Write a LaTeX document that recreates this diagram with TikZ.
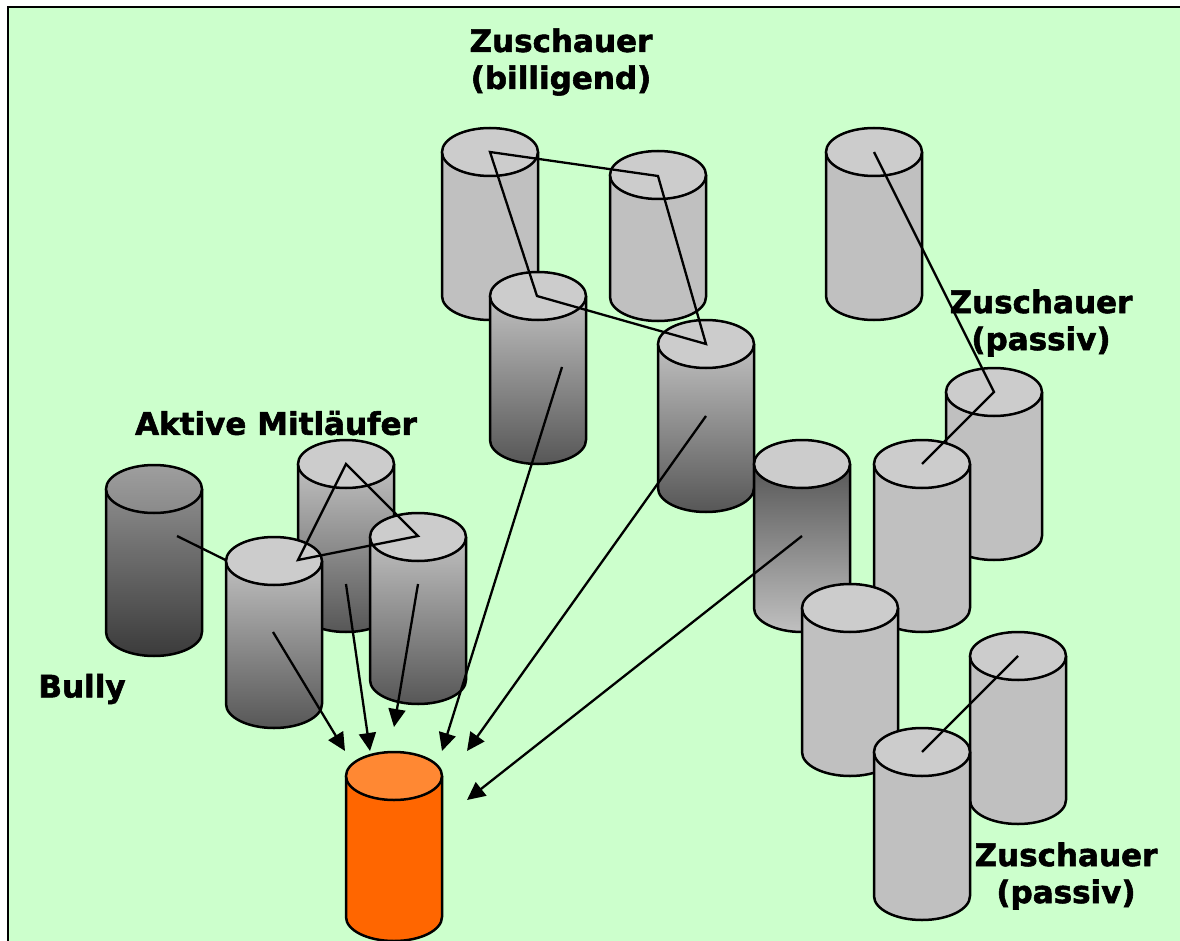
\documentclass[tikz,border=0pt]{standalone}
\usepackage{fontspec}
\setmainfont{DejaVu Sans}
\newfontfamily\lblfont{DejaVu Sans Bold}[FakeBold=1.8]
\usetikzlibrary{arrows.meta}
\definecolor{bg}{HTML}{CCFFCC}
\definecolor{cyltop}{HTML}{CCCCCC}
\definecolor{cylbody}{HTML}{C0C0C0}
\definecolor{orangebody}{HTML}{FF6600}
\definecolor{orangetop}{HTML}{FF8833}
\tikzset{
  cyledge/.style={draw=black, line width=2.5pt},
  plainbody/.style={fill=cylbody},
  plaintop/.style={fill=cyltop},
  darkbody/.style={top color=cylbody, bottom color=black!66},
  revbody/.style={top color=black!66, bottom color=cylbody},
  bullybody/.style={top color=black!45, bottom color=black!77},
  bullytop/.style={top color=black!38, bottom color=black!46},
  orbody/.style={fill=orangebody},
  ortop/.style={fill=orangetop},
  link/.style={draw=black, line width=2.3pt},
  arrowlink/.style={link, -{Triangle[length=18pt,width=17pt]}},
  lbl/.style={font=\lblfont\fontsize{31}{37}\selectfont, align=center, inner sep=0pt}
}
% name, cx, y of top centre, y of bottom centre, body style, top style
\newcommand\drawcyl[6]{%
  \path[#5] (#2-48,#3) -- (#2-48,#4) arc[start angle=180,end angle=360,x radius=48pt,y radius=24pt] -- (#2+48,#3) -- cycle;
  \draw[cyledge] (#2-48,#3) -- (#2-48,#4) arc[start angle=180,end angle=360,x radius=48pt,y radius=24pt] -- (#2+48,#3);
  \path[#6, cyledge] (#2,#3) ellipse[x radius=48pt,y radius=24pt];
  \coordinate (#1) at (#2,#3);
}
\begin{document}
\begin{tikzpicture}[x=1pt,y=-1pt]
\useasboundingbox (0,0) rectangle (1180,941);
\fill[white] (0,0) rectangle (1180,941);
\fill[bg] (8,7) rectangle (1182,943);
\draw[black, line width=2.6pt] (8,943) -- (8,7) -- (1182,7);

% Zuschauer (billigend)
\drawcyl{c6}{490}{152}{296}{plainbody}{plaintop}
\drawcyl{c7}{658}{175}{297}{plainbody}{plaintop}
\drawcyl{c8}{538}{296}{440}{darkbody}{plaintop}
\drawcyl{c9}{706}{344}{488}{darkbody}{plaintop}

% Zuschauer (passiv), upper group
\drawcyl{c10}{874}{152}{296}{plainbody}{plaintop}
\drawcyl{c11}{994}{392}{536}{plainbody}{plaintop}
\drawcyl{c12}{802}{464}{608}{revbody}{plaintop}
\drawcyl{c13}{922}{464}{608}{plainbody}{plaintop}
\drawcyl{c14}{850}{608}{752}{plainbody}{plaintop}

% Zuschauer (passiv), lower group
\drawcyl{c15}{1018}{656}{800}{plainbody}{plaintop}
\drawcyl{c16}{922}{752}{896}{plainbody}{plaintop}

% Bully and Aktive Mitlaeufer
\drawcyl{c1}{154}{489}{632}{bullybody}{bullytop}
\drawcyl{c2}{346}{464}{608}{darkbody}{plaintop}
\coordinate (bullyp) at (177,536);
\coordinate (c3m) at (274,584);
\draw[link] (bullyp) -- (c3m);
\drawcyl{c3}{274}{561}{704}{darkbody}{plaintop}
\drawcyl{c4}{418}{537}{680}{darkbody}{plaintop}

% Opfer
\drawcyl{c5}{394}{776}{917}{orbody}{ortop}

% links
\coordinate (p6) at (490,152);
\coordinate (p7) at (658,176);
\coordinate (p9) at (706,344);
\coordinate (p8) at (537,296);
\draw[link] (p6) -- (p7) -- (p9) -- (p8) -- cycle;

\coordinate (p2) at (346,464);
\coordinate (p4) at (418,536);
\coordinate (p3) at (298,560);
\draw[link] (p2) -- (p4) -- (p3) -- cycle;

\coordinate (p10) at (874,152);
\coordinate (p11) at (994,392);
\coordinate (p13) at (922,464);
\draw[link] (p10) -- (p11) -- (p13);

\coordinate (p15) at (1018,656);
\coordinate (p16) at (922,752);
\draw[link] (p15) -- (p16);

% arrows to the victim
\coordinate (a3) at (273,632);
\coordinate (a2) at (346,584);
\coordinate (a4) at (418,584);
\coordinate (a8) at (562,367);
\coordinate (a9) at (706,416);
\coordinate (a12) at (802,536);
\coordinate (t3) at (345,751);
\coordinate (t2) at (370,751);
\coordinate (t4) at (394,727);
\coordinate (t8) at (442,751);
\coordinate (t9) at (467,751);
\coordinate (t12) at (467,800);
\draw[arrowlink] (a3) -- (t3);
\draw[arrowlink] (a2) -- (t2);
\draw[arrowlink] (a4) -- (t4);
\draw[arrowlink] (a8) -- (t8);
\draw[arrowlink] (a9) -- (t9);
\draw[arrowlink] (a12) -- (t12);

% labels
\node[lbl] (lbill) at (561,62) {Zuschauer\\(billigend)};
\node[lbl] (lakt) at (276,423) {Aktive Mitläufer};
\node[lbl] (lbully) at (82,689) {Bully};
\node[lbl] (lpass1) at (1041,323) {Zuschauer\\(passiv)};
\node[lbl] (lpass2) at (1066,876) {Zuschauer\\(passiv)};
\end{tikzpicture}
\end{document}
